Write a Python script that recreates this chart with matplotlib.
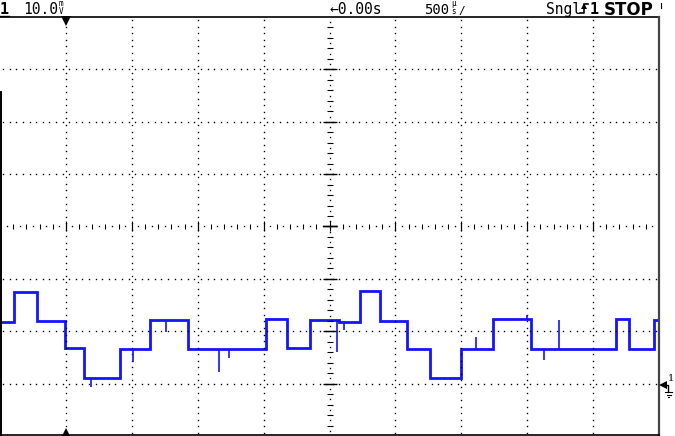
import numpy as np
import matplotlib
matplotlib.use("Agg")
import matplotlib.pyplot as plt

# ---- data (time in ms, voltage in mV as displayed) ----
edges_ms = [-2.5, -2.39, -2.22, -2.01, -1.86, -1.59, -1.36, -1.07, -0.48, -0.32,
            -0.15, 0.07, 0.23, 0.38, 0.59, 0.76, 1.0, 1.24, 1.53, 2.17, 2.27, 2.46, 2.49]
levels_mV = [-18.2, -12.5, -18.0, -23.2, -28.9, -23.4, -17.8, -23.4, -17.6, -23.2,
             -17.8, -18.2, -12.3, -18.0, -23.4, -28.9, -23.4, -17.6, -23.4, -17.6, -23.4, -17.8]
glitch_ms = [-1.81, -1.49, -1.24, -0.84, -0.76, 0.06, 0.11, 1.11, 1.50, 1.63, 1.74]
glitch_mV = [-30.6, -25.9, -20.1, -27.8, -25.1, -24.0, -19.8, -21.1, -16.9, -25.5, -17.8]

header_ch = "1"
header_scale = "10.0"
header_delay = "\u21900.00s"
header_time = "500"
header_mode = "Sngl"
header_state = "STOP"

volts_per_div = 10.0
ms_per_div = 0.5
n_xdiv, n_ydiv = 10, 8

W, H = 675, 436
fig = plt.figure(figsize=(W / 100, H / 100), dpi=100)
fig.patch.set_facecolor("white")

top_px, right_px = 17, 659
ax = fig.add_axes([0, 0, right_px / W, (H - top_px) / H])
xmax = ms_per_div * n_xdiv / 2
ymax = volts_per_div * n_ydiv / 2
ax.set_xlim(-xmax, xmax)
ax.set_ylim(-ymax, ymax)
ax.axis("off")

px_x = (2 * xmax) / right_px          # ms per pixel
px_y = (2 * ymax) / (H - top_px)      # mV per pixel
dot = dict(ls="none", marker="s", ms=1.0, mew=0, color="black")

# horizontal dotted lines
xd = np.arange(-xmax, xmax, ms_per_div / 10)
for yv in np.arange(-ymax + volts_per_div, ymax, volts_per_div):
    if abs(yv) < 1e-9:
        continue
    ax.plot(xd + ms_per_div / 20, np.full_like(xd, yv), **dot)
# vertical dotted lines
yd = np.arange(-ymax, ymax, volts_per_div / 8)
for xv in np.arange(-xmax + ms_per_div, xmax, ms_per_div):
    if abs(xv) < 1e-9:
        continue
    ax.plot(np.full_like(yd, xv), yd + volts_per_div / 16, **dot)

# center horizontal axis: ticks + dots
xt = np.arange(-xmax, xmax + 1e-9, ms_per_div / 5)
ax.vlines(xt[1:-1], -2.5 * px_y, 2.5 * px_y, color="black", lw=0.8)
ax.plot(xt[:-1] + ms_per_div / 10, np.zeros(len(xt) - 1), **dot)
xm = np.arange(-xmax + ms_per_div, xmax, ms_per_div)
ax.vlines(xm, -5 * px_y, 5 * px_y, color="black", lw=0.8)
# center vertical axis
yt = np.arange(-ymax, ymax + 1e-9, volts_per_div / 5)
ax.hlines(yt[1:-1], -3 * px_x, 3 * px_x, color="black", lw=0.8)
ax.plot(np.zeros(len(yt) - 1), yt[:-1] + volts_per_div / 10, **dot)
ym = np.arange(-ymax + volts_per_div, ymax, volts_per_div)
ax.hlines(ym, -7 * px_x, 7 * px_x, color="black", lw=1.0)
ax.hlines(0, -7 * px_x, 7 * px_x, color="black", lw=1.0)

# trace
blue = "#1414ff"
ax.stairs(levels_mV, edges_ms, baseline=None, color=blue, lw=2.0)
base = [levels_mV[min(np.searchsorted(edges_ms, t) - 1, len(levels_mV) - 1)] for t in glitch_ms]
ax.vlines(glitch_ms, base, glitch_mV, color=blue, lw=1.2)

# ---- overlay in pixel coordinates ----
ov = fig.add_axes([0, 0, 1, 1], zorder=5)
ov.set_xlim(0, W)
ov.set_ylim(H, 0)
ov.axis("off")
ov.patch.set_alpha(0)

ov.plot([0, right_px], [top_px, top_px], color="black", lw=1.2)
ov.plot([right_px, right_px], [top_px, H], color="#444444", lw=1.6)
ov.plot([1, 1], [92, H], color="black", lw=1.4)
ov.plot([0, right_px], [H - 1, H - 1], color="black", lw=1.2)

mono = dict(family="DejaVu Sans Mono", color="black", va="baseline")
ov.text(0, 14, header_ch, fontsize=11, fontweight="bold", **mono)
ov.plot([0, 9], [16, 16], color="black", lw=1.0)
ov.text(23, 14, header_scale, fontsize=10.5, **mono)
ov.text(58.5, 14.5, "m\nV", fontsize=5.5, linespacing=0.95, **mono)
ov.text(329, 14, header_delay, fontsize=10.5, **mono)
ov.text(424, 14, header_time, fontsize=10, **mono)
ov.text(451, 14.5, "\u00b5\ns", fontsize=5.5, linespacing=0.95, **mono)
ov.text(458, 14, "/", fontsize=8, **mono)
ov.text(546, 14, header_mode, fontsize=10.5, **mono)
# trigger icon
ov.plot([580, 584, 584, 588], [13, 13, 4, 4], color="black", lw=1.2)
ov.plot(584, 6.5, marker="^", ms=4, color="black", mew=0)
ov.text(590, 14, "1", fontsize=11, fontweight="bold", **mono)
ov.text(604, 15, header_state, fontsize=12, fontweight="bold",
        family="DejaVu Sans", color="black", va="baseline")
ov.plot([661, 661], [3, 8], color="black", lw=0.8)

# trigger position markers
ov.plot(66, 21, marker="v", ms=7, color="black", mew=0)
ov.plot(66, 433, marker="^", ms=7, color="black", mew=0)

# ground marker
ov.plot(663, 385, marker="<", ms=6, color="black", mew=0)
ov.plot([663, 668, 668], [385, 385, 391], color="black", lw=1.0)
ov.text(668, 381, "1", fontsize=7, family="DejaVu Serif", color="black", va="baseline")
ov.plot([665, 672], [392, 392], color="black", lw=0.8)
ov.plot([666.5, 670.5], [394.5, 394.5], color="black", lw=0.8)
ov.plot([668, 669], [397, 397], color="black", lw=0.8)

fig.savefig("out.png", dpi=100, facecolor="white")
